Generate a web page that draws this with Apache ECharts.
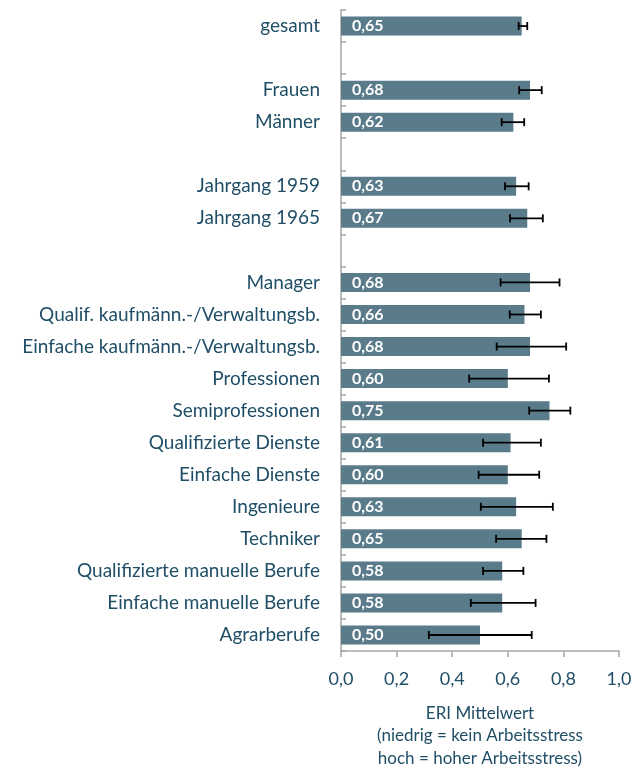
<!DOCTYPE html>
<html>
<head>
<meta charset="utf-8">
<script src="https://cdn.jsdelivr.net/npm/echarts@6/dist/echarts.min.js"></script>
<style>
  html, body { margin: 0; padding: 0; background: #fff; }
  #chart { width: 644px; height: 767px; }
</style>
</head>
<body>
<div id="chart"></div>
<script>
// blank entries are the gaps between the groups
const categories = [
  'gesamt', '',
  'Frauen', 'Männer', '',
  'Jahrgang 1959', 'Jahrgang 1965', '',
  'Manager', 'Qualif. kaufmänn.-/Verwaltungsb.', 'Einfache kaufmänn.-/Verwaltungsb.',
  'Professionen', 'Semiprofessionen', 'Qualifizierte Dienste', 'Einfache Dienste',
  'Ingenieure', 'Techniker', 'Qualifizierte manuelle Berufe', 'Einfache manuelle Berufe',
  'Agrarberufe'
];
const means = [
  0.65, null,
  0.68, 0.62, null,
  0.63, 0.67, null,
  0.68, 0.66, 0.68, 0.60, 0.75, 0.61, 0.60, 0.63, 0.65, 0.58, 0.58, 0.50
];
const errLow = [
  0.639, null,
  0.641, 0.578, null,
  0.590, 0.608, null,
  0.574, 0.607, 0.560, 0.461, 0.677, 0.511, 0.495, 0.503, 0.558, 0.511, 0.467, 0.316
];
const errHigh = [
  0.670, null,
  0.722, 0.659, null,
  0.675, 0.726, null,
  0.786, 0.719, 0.810, 0.748, 0.825, 0.719, 0.713, 0.762, 0.739, 0.656, 0.700, 0.686
];
const xTicks = [0, 0.2, 0.4, 0.6, 0.8, 1.0];

const textColor = '#1f4e66';
const axisColor = '#a6a6a6';

const errData = [];
categories.forEach((c, i) => {
  if (errLow[i] != null) errData.push([i, errLow[i], errHigh[i]]);
});

const chart = echarts.init(document.getElementById('chart'));
chart.setOption({
  animation: false,
  textStyle: { fontFamily: 'Lato' },
  grid: { left: 341, right: 25, top: 10, bottom: 116, containLabel: false, outerBoundsMode: 'none' },
  xAxis: {
    type: 'value',
    min: 0,
    max: 1,
    interval: 0.2,
    axisLine: { show: true, lineStyle: { color: axisColor, width: 1.5 } },
    axisTick: { show: true, length: 6, lineStyle: { color: axisColor, width: 1.5 } },
    splitLine: { show: false },
    axisLabel: {
      color: textColor,
      fontSize: 18,
      margin: 19,
      formatter: v => xTicks.includes(Math.round(v * 10) / 10) ? v.toFixed(1).replace('.', ',') : ''
    },
    name: 'ERI Mittelwert\n(niedrig = kein Arbeitsstress\nhoch = hoher Arbeitsstress)',
    nameLocation: 'middle',
    nameGap: 51,
    nameTextStyle: { color: textColor, fontSize: 17, lineHeight: 22.5, verticalAlign: 'top' }
  },
  yAxis: {
    type: 'category',
    inverse: true,
    data: categories,
    axisLine: { show: true, lineStyle: { color: axisColor, width: 1.5 } },
    axisTick: { show: true, inside: true, length: 5, alignWithLabel: false, lineStyle: { color: axisColor, width: 1.5 } },
    axisLabel: { color: textColor, fontSize: 19, margin: 21, interval: 0 }
  },
  series: [
    {
      type: 'bar',
      data: means,
      barWidth: 19,
      itemStyle: { color: '#5a7b8a' },
      label: {
        show: true,
        position: 'insideLeft',
        distance: 11,
        color: '#fff',
        fontWeight: 'bold',
        fontSize: 16,
        formatter: p => p.value == null ? '' : p.value.toFixed(2).replace('.', ',')
      },
      z: 2
    },
    {
      type: 'custom',
      data: errData,
      z: 3,
      renderItem: (params, api) => {
        const y = api.value(0);
        const a = api.coord([api.value(1), y]);
        const b = api.coord([api.value(2), y]);
        const h = 4;
        const style = { stroke: '#000', lineWidth: 1.8 };
        return {
          type: 'group',
          children: [
            { type: 'line', shape: { x1: a[0], y1: a[1], x2: b[0], y2: b[1] }, style },
            { type: 'line', shape: { x1: a[0], y1: a[1] - h, x2: a[0], y2: a[1] + h }, style },
            { type: 'line', shape: { x1: b[0], y1: b[1] - h, x2: b[0], y2: b[1] + h }, style }
          ]
        };
      }
    }
  ]
});
</script>
</body>
</html>
